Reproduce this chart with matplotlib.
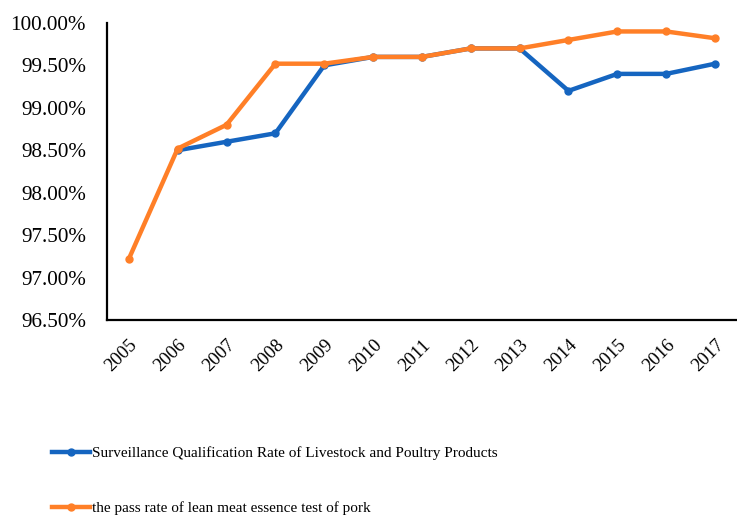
import matplotlib
matplotlib.use('Agg')
import matplotlib.pyplot as plt
from matplotlib.ticker import FuncFormatter

years = ['2005', '2006', '2007', '2008', '2009', '2010', '2011',
         '2012', '2013', '2014', '2015', '2016', '2017']
# Surveillance rate has no value for 2005
surveillance = [None, 98.50, 98.60, 98.70, 99.50, 99.60, 99.60,
                99.70, 99.70, 99.20, 99.40, 99.40, 99.52]
lean_meat = [97.22, 98.52, 98.80, 99.52, 99.52, 99.60, 99.60,
             99.70, 99.70, 99.80, 99.90, 99.90, 99.82]

labelSurv = 'Surveillance Qualification Rate of Livestock and Poultry Products'
labelLean = 'the pass rate of lean meat essence test of pork'

plt.rcParams['font.family'] = ['Liberation Serif', 'DejaVu Serif']

fig = plt.figure(figsize=(7.37, 5.22), dpi=100)
ax = fig.add_axes([0.145, 0.387, 0.855, 0.569])

xs = list(range(len(years)))
survX = [x for x, v in zip(xs, surveillance) if v is not None]
survY = [v for v in surveillance if v is not None]

ax.plot(survX, survY, color='#1565C0', linewidth=3.2, marker='o',
        markersize=5, label=labelSurv)
ax.plot(xs, lean_meat, color='#FF7F27', linewidth=3.2, marker='o',
        markersize=5, label=labelLean)

ax.set_xlim(-0.45, len(years) - 0.55)
ax.set_ylim(96.5, 100.0)
ax.set_yticks([96.5, 97.0, 97.5, 98.0, 98.5, 99.0, 99.5, 100.0])
ax.yaxis.set_major_formatter(FuncFormatter(lambda v, p: f'{v:.2f}%'))
ax.set_xticks(xs)
ax.set_xticklabels(years, rotation=45, ha='right', rotation_mode='anchor')
ax.tick_params(axis='y', length=0, labelsize=15.2, pad=15)
ax.tick_params(axis='x', length=0, labelsize=13.5, pad=12)

for side in ('top', 'right'):
    ax.spines[side].set_visible(False)
for side in ('left', 'bottom'):
    ax.spines[side].set_linewidth(1.6)
    ax.spines[side].set_color('black')

fig.legend(loc='upper left', bbox_to_anchor=(0.062, 0.156),
           frameon=False, fontsize=11, handlelength=2.5, handletextpad=0.1,
           labelspacing=2.7, borderaxespad=0)

fig.savefig('out.png', dpi=100)
